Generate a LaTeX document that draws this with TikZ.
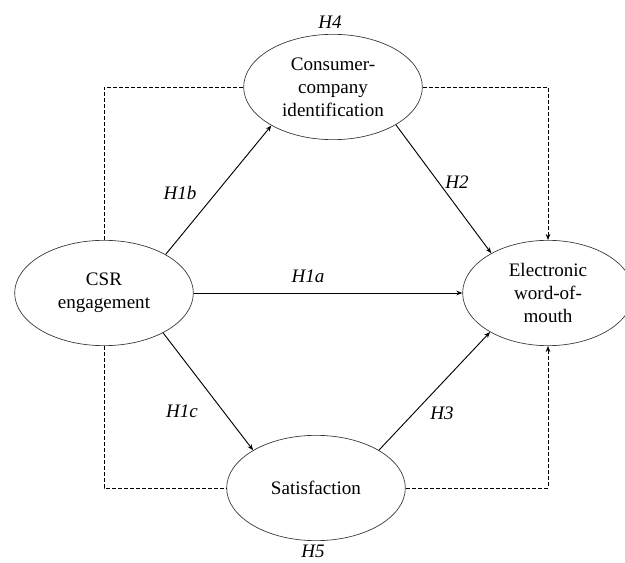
\documentclass[tikz,border=0pt]{standalone}
\usepackage{fontspec}
\setmainfont{Liberation Serif}
\usetikzlibrary{shapes.geometric, arrows.meta}

\tikzset{
  construct/.style={draw=black!80, ellipse, line width=0.5pt, minimum width=134pt,
    minimum height=79pt, inner sep=0pt, align=center,
    font=\fontsize{14.3}{17.2}\selectfont},
  hyp/.style={font=\fontsize{14.3}{17.2}\selectfont\itshape},
  link/.style={->, line width=0.7pt},
  medlink/.style={->, line width=0.6pt, dash pattern=on 3pt off 1.5pt}
}

\begin{document}
\begin{tikzpicture}[>={Stealth[length=4.5pt, width=3.5pt]}, x=0.75pt, y=-0.75pt]
    \useasboundingbox (0, 0) rectangle (625, 563);

    \node[construct] (ident) at (333, 87) {Consumer-\\company\\identification};
    \node[construct] (csr) at (104, 293) {CSR\\engagement};
    \node[construct, minimum width=128pt] (ewom) at (548, 293) {Electronic\\word-of-\\mouth};
    \node[construct] (sat) at (316, 488) {Satisfaction};

    \draw[link] (csr.32) -- (ident.212);
    \draw[link] (ident.329) -- (ewom.145);
    \draw[link] (csr.east) -- (ewom.west);
    \draw[link] (csr.326) -- (sat.149);
    \draw[link] (sat.31) -- (ewom.214);

    \draw[medlink, -] (csr.north) |- (ident.west);
    \draw[medlink] (ident.east) -| (ewom.north);
    \draw[medlink, -] (csr.south) |- (sat.west);
    \draw[medlink] (sat.east) -| (ewom.south);

    \node[hyp] (h4) at (330, 22) {H4};
    \node[hyp] (h1b) at (180, 193) {H1b};
    \node[hyp] (h2) at (457, 182) {H2};
    \node[hyp] (h1a) at (308, 276) {H1a};
    \node[hyp] (h1c) at (182, 411) {H1c};
    \node[hyp] (h3) at (442, 413) {H3};
    \node[hyp] (h5) at (313, 551) {H5};
  \end{tikzpicture}
\end{document}
